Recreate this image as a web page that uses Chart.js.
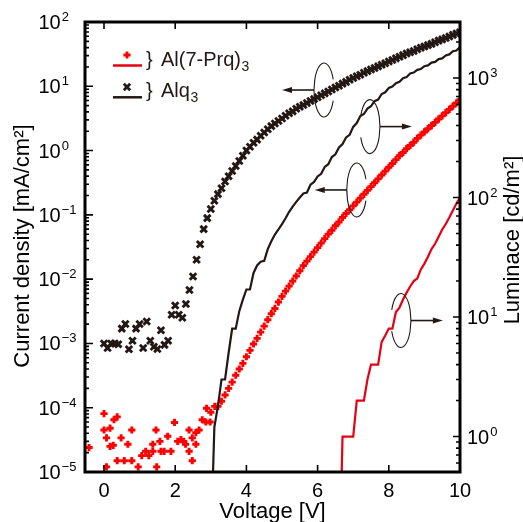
<!DOCTYPE html>
<html>
<head>
<meta charset="utf-8">
<script src="https://cdn.jsdelivr.net/npm/chart.js@4.4.1/dist/chart.umd.min.js"></script>
<style>
  html, body { margin: 0; padding: 0; background: #fff; }
  #wrap { width: 523px; height: 522px; }
</style>
</head>
<body>
<div id="wrap"><canvas id="chartCanvas" width="523" height="522"></canvas></div>
<script>
// Al(7-Prq)3 current density [mA/cm2] vs voltage [V]
const prqVoltage = [
  -0.42, 0.0, 0.0, 0.07, 0.07, 0.17, 0.17, 0.26, 0.28, 0.37, 0.37, 0.48, 0.57, 0.67, 0.78, 0.78,
  0.96, 1.06, 1.17, 1.26, 1.37, 1.37, 1.46, 1.48, 1.57, 1.60, 1.69, 1.79, 1.88, 1.98, 2.07, 2.16,
  2.24, 2.29, 2.39, 2.39, 2.48, 2.48, 2.58, 2.58, 2.67, 2.76, 2.86, 2.88, 2.98, 3.00, 3.11,
  3.2, 3.3, 3.4, 3.5, 3.6, 3.7, 3.8, 3.9, 4.0, 4.1, 4.2, 4.3, 4.4, 4.5, 4.6, 4.7, 4.8, 4.9,
  5.0, 5.1, 5.2, 5.3, 5.4, 5.5, 5.6, 5.7, 5.8, 5.9, 6.0, 6.1, 6.2, 6.3, 6.4, 6.5, 6.6, 6.7,
  6.8, 6.9, 7.0, 7.1, 7.2, 7.3, 7.4, 7.5, 7.6, 7.7, 7.8, 7.9, 8.0, 8.1, 8.2, 8.3, 8.4, 8.5,
  8.6, 8.7, 8.8, 8.9, 9.0, 9.1, 9.2, 9.3, 9.4, 9.5, 9.6, 9.7, 9.8, 9.9, 10.0
];
const prqCurrent = [
  2.4e-5, 8.1e-5, 4.5e-5, 3.4e-5, 1.2e-5, 4.8e-5, 2.5e-5, 2.6e-5, 6.5e-5, 7.2e-5, 1.5e-5, 3.4e-5, 1.5e-5, 2.7e-5, 4.5e-5, 1.5e-5,
  1.2e-5, 1.8e-5, 2.1e-5, 1.8e-5, 2.7e-5, 2.1e-5, 4.5e-5, 1.2e-5, 3.0e-5, 2.1e-5, 2.1e-5, 3.6e-5, 2.1e-5, 5.9e-5, 3.0e-5, 3.2e-5,
  3.0e-5, 2.7e-5, 4.5e-5, 2.1e-5, 3.4e-5, 1.5e-5, 2.7e-5, 4.1e-5, 4.5e-5, 6.5e-5, 6.0e-5, 9.8e-5, 6.0e-5, 8.5e-5, 1.05e-4,
  1.05e-4, 1.26e-4, 1.58e-4, 2.0e-4, 2.5e-4, 3.2e-4, 4.0e-4, 4.9e-4, 6.2e-4, 7.8e-4, 9.8e-4, 1.2e-3, 1.5e-3, 1.86e-3, 2.34e-3, 2.9e-3, 3.5e-3, 4.4e-3,
  5.4e-3, 6.5e-3, 7.8e-3, 9.3e-3, 0.0112, 0.0135, 0.0162, 0.0191, 0.0224, 0.0263, 0.0309, 0.0363, 0.0427, 0.0501, 0.0575, 0.0676, 0.0776, 0.0912,
  0.105, 0.120, 0.138, 0.158, 0.182, 0.209, 0.240, 0.275, 0.316, 0.363, 0.417, 0.479, 0.550, 0.631, 0.724, 0.832, 0.933, 1.07,
  1.20, 1.35, 1.55, 1.74, 1.95, 2.19, 2.45, 2.75, 3.09, 3.47, 3.89, 4.37, 4.90, 5.50, 6.17
];

// Alq3 current density [mA/cm2], 0.0 .. 10.0 V
const alqVoltage = [
  0.0, 0.1, 0.2, 0.3, 0.4, 0.5, 0.6, 0.7, 0.8, 0.9, 1.0, 1.1, 1.2, 1.3, 1.4, 1.5, 1.6, 1.7, 1.8, 1.9,
  2.0, 2.1, 2.2, 2.3, 2.4, 2.5, 2.6, 2.7, 2.8, 2.9, 3.0, 3.1, 3.2, 3.3, 3.4, 3.5, 3.6, 3.7, 3.8, 3.9,
  4.0, 4.1, 4.2, 4.3, 4.4, 4.5, 4.6, 4.7, 4.8, 4.9, 5.0, 5.1, 5.2, 5.3, 5.4, 5.5, 5.6, 5.7, 5.8, 5.9,
  6.0, 6.1, 6.2, 6.3, 6.4, 6.5, 6.6, 6.7, 6.8, 6.9, 7.0, 7.1, 7.2, 7.3, 7.4, 7.5, 7.6, 7.7, 7.8, 7.9,
  8.0, 8.1, 8.2, 8.3, 8.4, 8.5, 8.6, 8.7, 8.8, 8.9, 9.0, 9.1, 9.2, 9.3, 9.4, 9.5, 9.6, 9.7, 9.8, 9.9, 10.0
];
const alqCurrent = [
  1.0e-3, 8.5e-4, 1.0e-3, 1.0e-3, 9.7e-4, 1.7e-3, 2.0e-3, 8.1e-4, 1.1e-3, 1.7e-3, 2.0e-3, 8.5e-4, 2.2e-3, 1.1e-3, 8.9e-4, 8.2e-4, 1.6e-3, 9.5e-4, 1.1e-3, 2.8e-3,
  3.9e-3, 2.8e-3, 2.5e-3, 4.1e-3, 6.8e-3, 0.011, 0.020, 0.035, 0.060, 0.089, 0.123, 0.166, 0.21, 0.26, 0.33, 0.40, 0.48, 0.575, 0.69, 0.83,
  1.00, 1.15, 1.32, 1.48, 1.70, 1.91, 2.14, 2.40, 2.63, 2.88, 3.16, 3.47, 3.80, 4.07, 4.47, 4.79, 5.13, 5.50, 5.89, 6.31,
  6.76, 7.24, 7.76, 8.32, 8.91, 9.55, 10.2, 11.0, 11.7, 12.6, 13.5, 14.3, 15.1, 16.2, 17.2, 18.2, 19.3, 20.4, 21.6, 22.9,
  24.3, 25.7, 27.2, 28.8, 30.5, 32.4, 33.9, 35.5, 37.6, 39.8, 41.7, 43.7, 45.7, 48.4, 51.3, 53.7, 56.2, 59.6, 63.1, 66.1, 69.2
];

// Alq3 luminance [cd/m2]
const alqLumVoltage = [
  3.04, 3.1, 3.2, 3.3, 3.4, 3.5, 3.6, 3.7, 3.8, 3.9, 4.0, 4.1, 4.2, 4.3, 4.4, 4.5, 4.6, 4.7, 4.8, 4.9,
  5.0, 5.1, 5.2, 5.3, 5.4, 5.5, 5.6, 5.7, 5.8, 5.9, 6.0, 6.1, 6.2, 6.3, 6.4, 6.5, 6.6, 6.7, 6.8, 6.9,
  7.0, 7.1, 7.2, 7.3, 7.4, 7.5, 7.6, 7.7, 7.8, 7.9, 8.0, 8.1, 8.2, 8.3, 8.4, 8.5, 8.6, 8.7, 8.8, 8.9,
  9.0, 9.1, 9.2, 9.3, 9.4, 9.5, 9.6, 9.7, 9.8, 9.9, 10.0
];
const alqLuminance = [
  0.3, 1.2, 1.8, 3.0, 3.0, 5.0, 8.0, 8.0, 11.2, 14, 17, 17, 23.4, 27, 29, 29.5, 37, 43, 49, 54,
  60, 67, 76, 84, 92, 100, 108, 110, 128, 135, 150, 158, 180, 190, 218, 230, 262, 280, 318, 335,
  390, 420, 480, 500, 555, 580, 640, 660, 735, 760, 825, 850, 905, 930, 995, 1020, 1090, 1110, 1170, 1190,
  1255, 1275, 1345, 1365, 1440, 1460, 1545, 1575, 1675, 1700, 1820
];

// Al(7-Prq)3 luminance [cd/m2]
const prqLumVoltage = [
  6.66, 6.7, 6.8, 6.9, 7.0, 7.1, 7.2, 7.3, 7.4, 7.5, 7.6, 7.7, 7.8, 7.9, 8.0, 8.1, 8.2, 8.3,
  8.4, 8.5, 8.6, 8.7, 8.8, 8.9, 9.0, 9.1, 9.2, 9.3, 9.4, 9.5, 9.6, 9.7, 9.8, 9.9, 10.0
];
const prqLuminance = [
  0.3, 1.0, 1.0, 1.0, 1.0, 2.0, 2.0, 2.0, 3.0, 4.0, 4.0, 4.0, 6.2, 7.0, 8.0, 8.0, 11, 12,
  14, 16, 18, 20, 21, 25, 28, 32, 37, 41, 47, 54, 60, 68, 78, 89, 100
];

const xTickValues = [0, 2, 4, 6, 8, 10];
const leftTickExps = [-5, -4, -3, -2, -1, 0, 1, 2];
const rightTickExps = [0, 1, 2, 3];

const RED = '#ff0000';
const RED_LINE = '#e60012';
const INK = '#231815';
const FONT = '"Liberation Sans", Arial, Helvetica, sans-serif';

function toXY(xs, ys) {
  return xs.map((v, i) => ({ x: v, y: ys[i] }));
}

// loops with arrows, placed in data coordinates (x: V, y: left axis)
const callouts = [
  { x: 6.18, y: 8.75, dir: -1 },
  { x: 7.47, y: 2.36, dir: 1 },
  { x: 7.10, y: 0.244, dir: -1 },
  { x: 8.34, y: 2.27e-3, dir: 1 }
];

function drawPower(ctx, x, y, exp) {
  ctx.textAlign = 'left';
  ctx.textBaseline = 'alphabetic';
  ctx.font = '20px ' + FONT;
  ctx.fillText('10', x, y + 7);
  const w = ctx.measureText('10').width;
  ctx.font = '13px ' + FONT;
  ctx.fillText(exp < 0 ? '\u2212' + (-exp) : String(exp), x + w + 1, y - 1);
}

const framePlugin = {
  id: 'frame',
  afterDatasetsDraw(chart) {
    const { ctx, chartArea: a, scales } = chart;
    const xs = scales.x, yl = scales.y, yr = scales.y1;
    ctx.save();

    // callout loops
    ctx.strokeStyle = INK;
    ctx.fillStyle = INK;
    callouts.forEach(c => {
      const cx = xs.getPixelForValue(c.x);
      const cy = yl.getPixelForValue(c.y);
      const rx = 10, ry = 27;
      ctx.lineWidth = 1.1;
      ctx.beginPath();
      if (c.dir < 0) ctx.ellipse(cx, cy, rx, ry, 0, 0.13 * Math.PI, 1.87 * Math.PI);
      else ctx.ellipse(cx, cy, rx, ry, 0, -0.87 * Math.PI, 0.87 * Math.PI);
      ctx.stroke();
      const x0 = cx + c.dir * rx;
      const x1 = x0 + c.dir * 32;
      ctx.lineWidth = 1.6;
      ctx.beginPath();
      ctx.moveTo(x0, cy);
      ctx.lineTo(x1 - c.dir * 8, cy);
      ctx.stroke();
      ctx.beginPath();
      ctx.moveTo(x1, cy);
      ctx.lineTo(x1 - c.dir * 10, cy - 3);
      ctx.lineTo(x1 - c.dir * 10, cy + 3);
      ctx.closePath();
      ctx.fill();
    });

    // frame
    ctx.strokeStyle = '#000';
    ctx.lineWidth = 3;
    ctx.strokeRect(a.left, a.top, a.right - a.left, a.bottom - a.top);

    // inward ticks
    ctx.lineWidth = 1.6;
    ctx.beginPath();
    xTickValues.forEach(v => {
      const px = xs.getPixelForValue(v);
      ctx.moveTo(px, a.bottom); ctx.lineTo(px, a.bottom - 7);
      ctx.moveTo(px, a.top); ctx.lineTo(px, a.top + 7);
    });
    for (let e = -5; e <= 2; e++) {
      for (let m = 1; m <= 9; m++) {
        const v = m * Math.pow(10, e);
        if (v > 100 * 1.0001) continue;
        const py = yl.getPixelForValue(v);
        const len = m === 1 ? 8 : 4;
        ctx.moveTo(a.left, py); ctx.lineTo(a.left + len, py);
      }
    }
    for (let e = -1; e <= 3; e++) {
      for (let m = 1; m <= 9; m++) {
        const v = m * Math.pow(10, e);
        if (v < yr.min || v > yr.max) continue;
        const py = yr.getPixelForValue(v);
        const len = m === 1 ? 7 : 4;
        ctx.moveTo(a.right, py); ctx.lineTo(a.right - len, py);
      }
    }
    ctx.stroke();
    ctx.restore();
  },
  afterDraw(chart) {
    const { ctx, chartArea: a, scales } = chart;
    const xs = scales.x, yl = scales.y, yr = scales.y1;
    ctx.save();
    ctx.fillStyle = '#000';

    // tick labels
    ctx.font = '20px ' + FONT;
    ctx.textAlign = 'center';
    ctx.textBaseline = 'alphabetic';
    xTickValues.forEach(v => ctx.fillText(String(v), xs.getPixelForValue(v), 497));
    leftTickExps.forEach(e => drawPower(ctx, 38.5, yl.getPixelForValue(Math.pow(10, e)), e));
    rightTickExps.forEach(e => drawPower(ctx, 467, yr.getPixelForValue(Math.pow(10, e)), e));

    // axis titles
    ctx.font = '22px ' + FONT;
    ctx.textAlign = 'center';
    ctx.fillText('Voltage [V]', (a.left + a.right) / 2, 518);
    ctx.textBaseline = 'middle';
    ctx.save();
    ctx.translate(23, 246);
    ctx.rotate(-Math.PI / 2);
    ctx.fillText('Current density [mA/cm\u00b2]', 0, 0);
    ctx.restore();
    ctx.save();
    ctx.translate(513, 240);
    ctx.rotate(-Math.PI / 2);
    ctx.fillText('Luminace [cd/m\u00b2]', 0, 0);
    ctx.restore();

    // legend
    const rows = [
      { color: RED, line: RED_LINE, style: 'cross', my: 55, ly: 65.5, base: 66, name: 'Al(7-Prq)' },
      { color: INK, line: INK, style: 'crossRot', my: 87, ly: 97.3, base: 96.5, name: 'Alq' }
    ];
    rows.forEach(r => {
      ctx.strokeStyle = r.color;
      ctx.lineWidth = 2.8;
      ctx.beginPath();
      if (r.style === 'cross') {
        ctx.moveTo(127 - 3.6, r.my); ctx.lineTo(127 + 3.6, r.my);
        ctx.moveTo(127, r.my - 3.6); ctx.lineTo(127, r.my + 3.6);
      } else {
        ctx.moveTo(127 - 3.2, r.my - 3.2); ctx.lineTo(127 + 3.2, r.my + 3.2);
        ctx.moveTo(127 - 3.2, r.my + 3.2); ctx.lineTo(127 + 3.2, r.my - 3.2);
      }
      ctx.stroke();
      ctx.strokeStyle = r.line;
      ctx.lineWidth = 2.5;
      ctx.beginPath();
      ctx.moveTo(113, r.ly); ctx.lineTo(142, r.ly);
      ctx.stroke();

      ctx.fillStyle = INK;
      ctx.textAlign = 'left';
      ctx.textBaseline = 'alphabetic';
      ctx.font = '20px ' + FONT;
      ctx.fillText('}', 146, r.base);
      ctx.fillText(r.name, 161, r.base);
      const w = ctx.measureText(r.name).width;
      ctx.font = '14px ' + FONT;
      ctx.fillText('3', 161 + w + 0.5, r.base + 5);
    });
    ctx.restore();
  }
};

new Chart(document.getElementById('chartCanvas'), {
  type: 'scatter',
  data: {
    datasets: [
      {
        label: 'Alq3 luminance',
        data: toXY(alqLumVoltage, alqLuminance),
        yAxisID: 'y1',
        showLine: true,
        borderColor: INK,
        borderWidth: 2.2,
        pointRadius: 0,
        tension: 0,
        clip: 0
      },
      {
        label: 'Al(7-Prq)3 luminance',
        data: toXY(prqLumVoltage, prqLuminance),
        yAxisID: 'y1',
        showLine: true,
        borderColor: RED_LINE,
        borderWidth: 2.2,
        pointRadius: 0,
        tension: 0,
        clip: 0
      },
      {
        label: 'Al(7-Prq)3 current',
        data: toXY(prqVoltage, prqCurrent),
        yAxisID: 'y',
        showLine: false,
        pointStyle: 'cross',
        pointRadius: 3.6,
        pointBorderWidth: 2.9,
        pointBorderColor: RED,
        pointBackgroundColor: RED,
        clip: 0
      },
      {
        label: 'Alq3 current',
        data: toXY(alqVoltage, alqCurrent),
        yAxisID: 'y',
        showLine: false,
        pointStyle: 'crossRot',
        pointRadius: 4.6,
        pointBorderWidth: 2.9,
        pointBorderColor: INK,
        pointBackgroundColor: INK,
        clip: 0
      }
    ]
  },
  options: {
    responsive: false,
    animation: false,
    devicePixelRatio: 1,
    events: [],
    layout: { padding: { left: 85, top: 22, right: 63, bottom: 50 } },
    plugins: { legend: { display: false }, tooltip: { enabled: false } },
    scales: {
      x: { type: 'linear', min: -0.534, max: 10, display: false },
      y: { type: 'logarithmic', min: 1e-5, max: 100, display: false },
      y1: { type: 'logarithmic', position: 'right', min: 0.505, max: 2942, display: false }
    }
  },
  plugins: [framePlugin]
});
</script>
</body>
</html>
